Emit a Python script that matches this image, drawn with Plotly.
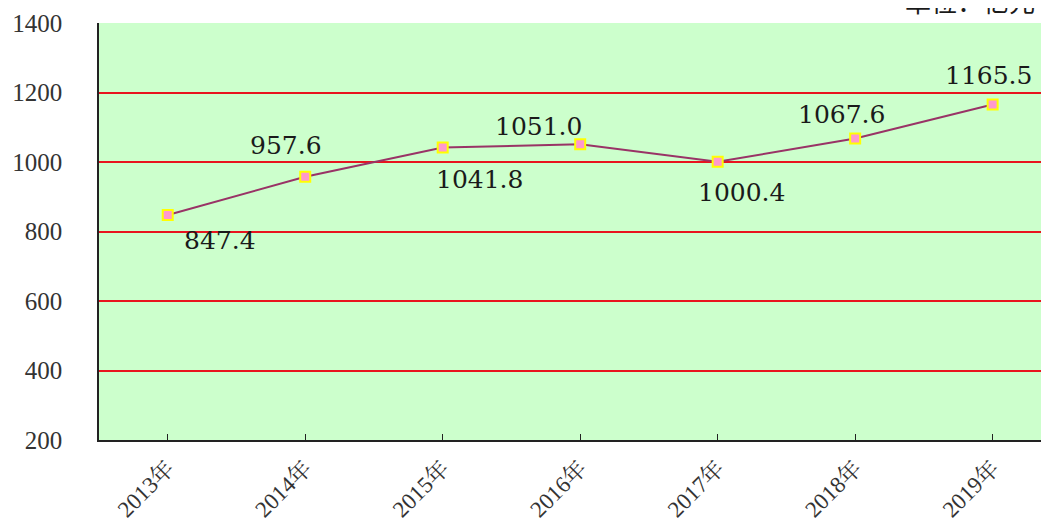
import plotly.graph_objects as go

years = ["2013年", "2014年", "2015年", "2016年", "2017年", "2018年", "2019年"]
values = [847.4, 957.6, 1041.8, 1051.0, 1000.4, 1067.6, 1165.5]
label_dx = [52, -19, 37, -42, 24, -14, -4]
label_dy = [-25, 31, -32, 18, -31, 24, 29]
y_ticks = [200, 400, 600, 800, 1000, 1200, 1400]
unit_text = "单位：亿元"

serif = "Liberation Serif, Times New Roman, Noto Serif CJK SC, serif"
label_font = "DejaVu Serif, Liberation Serif, serif"

fig = go.Figure()
fig.add_trace(go.Scatter(
    x=list(range(len(years))), y=values, mode="lines+markers",
    line=dict(color="#993366", width=2),
    marker=dict(symbol="square", size=10, color="#FF99CC",
                line=dict(color="#FFFF00", width=2)),
    showlegend=False, hoverinfo="skip",
))

for i, v in enumerate(values):
    fig.add_annotation(
        x=i, y=v, xref="x", yref="y", text=f"{v:.1f}", showarrow=False,
        xshift=label_dx[i], yshift=label_dy[i],
        font=dict(family=label_font, size=25, color="#1a1a1a"),
    )

fig.add_annotation(
    x=1.0, y=1.053, xref="paper", yref="paper", text=unit_text,
    showarrow=False, xanchor="right", yanchor="middle",
    xshift=-12,
    font=dict(family="Noto Sans CJK SC, serif", size=26, color="#1a1a1a"),
)

fig.update_layout(
    width=1041, height=513,
    margin=dict(l=91, r=0, t=15, b=81, autoexpand=False),
    paper_bgcolor="white", plot_bgcolor="#CCFFCC",
    xaxis=dict(
        range=[-0.5, 6.41], automargin=False,
        tickmode="array", tickvals=list(range(len(years))), ticktext=years,
        tickangle=-45, showgrid=False, zeroline=False,
        showline=True, linecolor="#222222", linewidth=1.5,
        ticks="inside", ticklen=6, tickcolor="#222222", tickson="boundaries",
        tickfont=dict(family=serif, size=23, color="#333333"),
        ticklabelstandoff=4,
    ),
    yaxis=dict(
        range=[200, 1400], tickvals=y_ticks, automargin=False,
        showgrid=True, gridcolor="#E8141E", gridwidth=2,
        zeroline=False, showline=True, linecolor="#222222", linewidth=1.5,
        ticks="", tickfont=dict(family=serif, size=25, color="#333333"),
        ticklabelstandoff=30,
    ),
)

fig.write_html("out.html")
